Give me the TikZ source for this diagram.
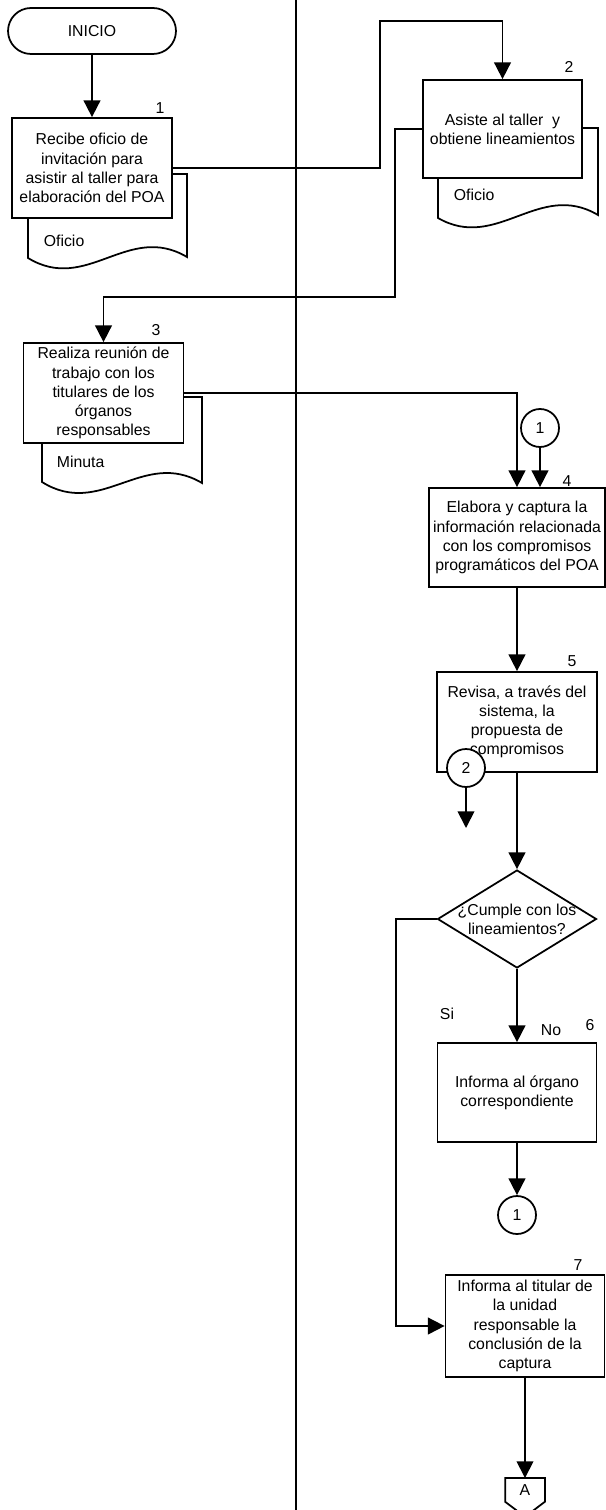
\documentclass[tikz,border=0pt]{standalone}
\usepackage{fontspec}
\setmainfont{Liberation Sans}
\usetikzlibrary{positioning, arrows.meta, shapes.geometric}

\begin{document}
\begin{tikzpicture}[
    x=0.02cm, y=-0.02cm, line width=1pt,
    every node/.style={font=\fontsize{9}{10.9}\selectfont},
    box/.style={draw, fill=white, minimum width=3.2cm, minimum height=2cm, align=center, inner sep=0pt},
    docu/.style={draw, fill=white},
    doctxt/.style={anchor=west, inner sep=0pt},
    num/.style={inner sep=0pt},
    conn/.style={draw, fill=white, circle, minimum size=0.76cm, inner sep=0pt},
    arrow/.style={-{Triangle[length=9.5pt, width=9.5pt]}}
  ]
  \useasboundingbox (0,0) rectangle (605,1510);
  \draw (296,0) -- (296,1510);

  \draw[docu] (28,174) -- (187,174) -- (187,257) .. controls (128,222) and (87,294) .. (28,258) -- cycle;
  \draw[docu] (438,128) -- (598,128) -- (598,215) .. controls (539,180) and (497,252) .. (438,218) -- cycle;
  \draw[docu] (42,397) -- (202,397) -- (202,483) .. controls (143,448) and (101,519) .. (42,482) -- cycle;
  \node[doctxt] (of1) at (43,241) {Oficio};
  \node[doctxt] (of2) at (453,195) {Oficio};
  \node[doctxt] (min) at (56,462) {Minuta};

  \node[draw, rounded corners=0.46cm, minimum width=3.36cm, minimum height=0.92cm] (ini) at (92,31) {INICIO};
  \node[box] (rec) at (92,168) {Recibe oficio de\\invitación para\\asistir al taller para\\elaboración del POA};
  \node[box, minimum width=3.18cm, minimum height=1.96cm] (asi) at (502.5,129) {Asiste al taller\ \ y\\obtiene lineamientos};
  \node[box] (reu) at (103.5,393) {Realiza reunión de\\trabajo con los\\titulares de los\\órganos\\responsables};
  \node[box, minimum width=3.52cm, minimum height=1.98cm] (ela) at (517,537.5) {Elabora y captura la\\información relacionada\\con los compromisos\\programáticos del POA};
  \node[box] (rev) at (517,722) {Revisa, a través del\\sistema, la\\propuesta de\\compromisos};
  \node[draw, diamond, fill=white, minimum width=3.18cm, minimum height=1.96cm, inner sep=0pt] (cum) at (517,919) {};
  \node[align=center, inner sep=0pt] (cumt) at (cum) {¿Cumple con los\\lineamientos?};
  \node[box, minimum width=3.18cm, minimum height=1.98cm] (inf) at (517,1092.5) {Informa al órgano\\correspondiente};
  \node[box, minimum width=3.18cm, minimum height=2.04cm] (con) at (525,1326) {Informa al titular de\\la unidad\\responsable la\\conclusión de la\\captura};

  \node[conn] (c1) at (540,428) {1};
  \node[conn] (c2) at (466,768) {2};
  \node[conn] (c1b) at (517,1215) {1};
  \node[minimum width=0.76cm, minimum height=0.44cm, inner sep=0pt, anchor=north] (offA) at (525,1478) {};
  \draw[fill=white] (offA.south west) -- (offA.north west) -- (offA.north east) -- (offA.south east)
    -- ([yshift=-0.3cm]offA.south) -- cycle;
  \node[inner sep=0pt] (offAt) at (offA) {A};
  \coordinate (c2e) at (466,828);

  \node[num] (n1) at (160,108) {1};
  \node[num] (n2) at (569,67) {2};
  \node[num] (n3) at (156,330) {3};
  \node[num] (n4) at (567,481) {4};
  \node[num] (n5) at (572,661) {5};
  \node[num] (n6) at (590,1025) {6};
  \node[num] (n7) at (578,1265) {7};
  \node[num] (si) at (447,1014) {Si};
  \node[num] (no) at (551,1030) {No};

  \draw[arrow] (ini) -- (rec);
  \draw[arrow] (rec.east) -| (380,21) -| (asi.north);
  \draw[arrow] (asi.west) -| (395,297) -| (reu.north);
  \draw[arrow] (reu.east) -| (ela.north);
  \draw[arrow] (c1) -- (c1 |- ela.north);
  \draw[arrow] (ela) -- (rev);
  \draw[arrow] (c2) -- (c2e);
  \draw[arrow] (rev) -- (cum);
  \draw[arrow] (cum.west) -- ++(-41,0) |- (con.west);
  \draw[arrow] (cum) -- (inf);
  \draw[arrow] (inf) -- (c1b);
  \draw[arrow] (con) -- (offA);
\end{tikzpicture}
\end{document}
